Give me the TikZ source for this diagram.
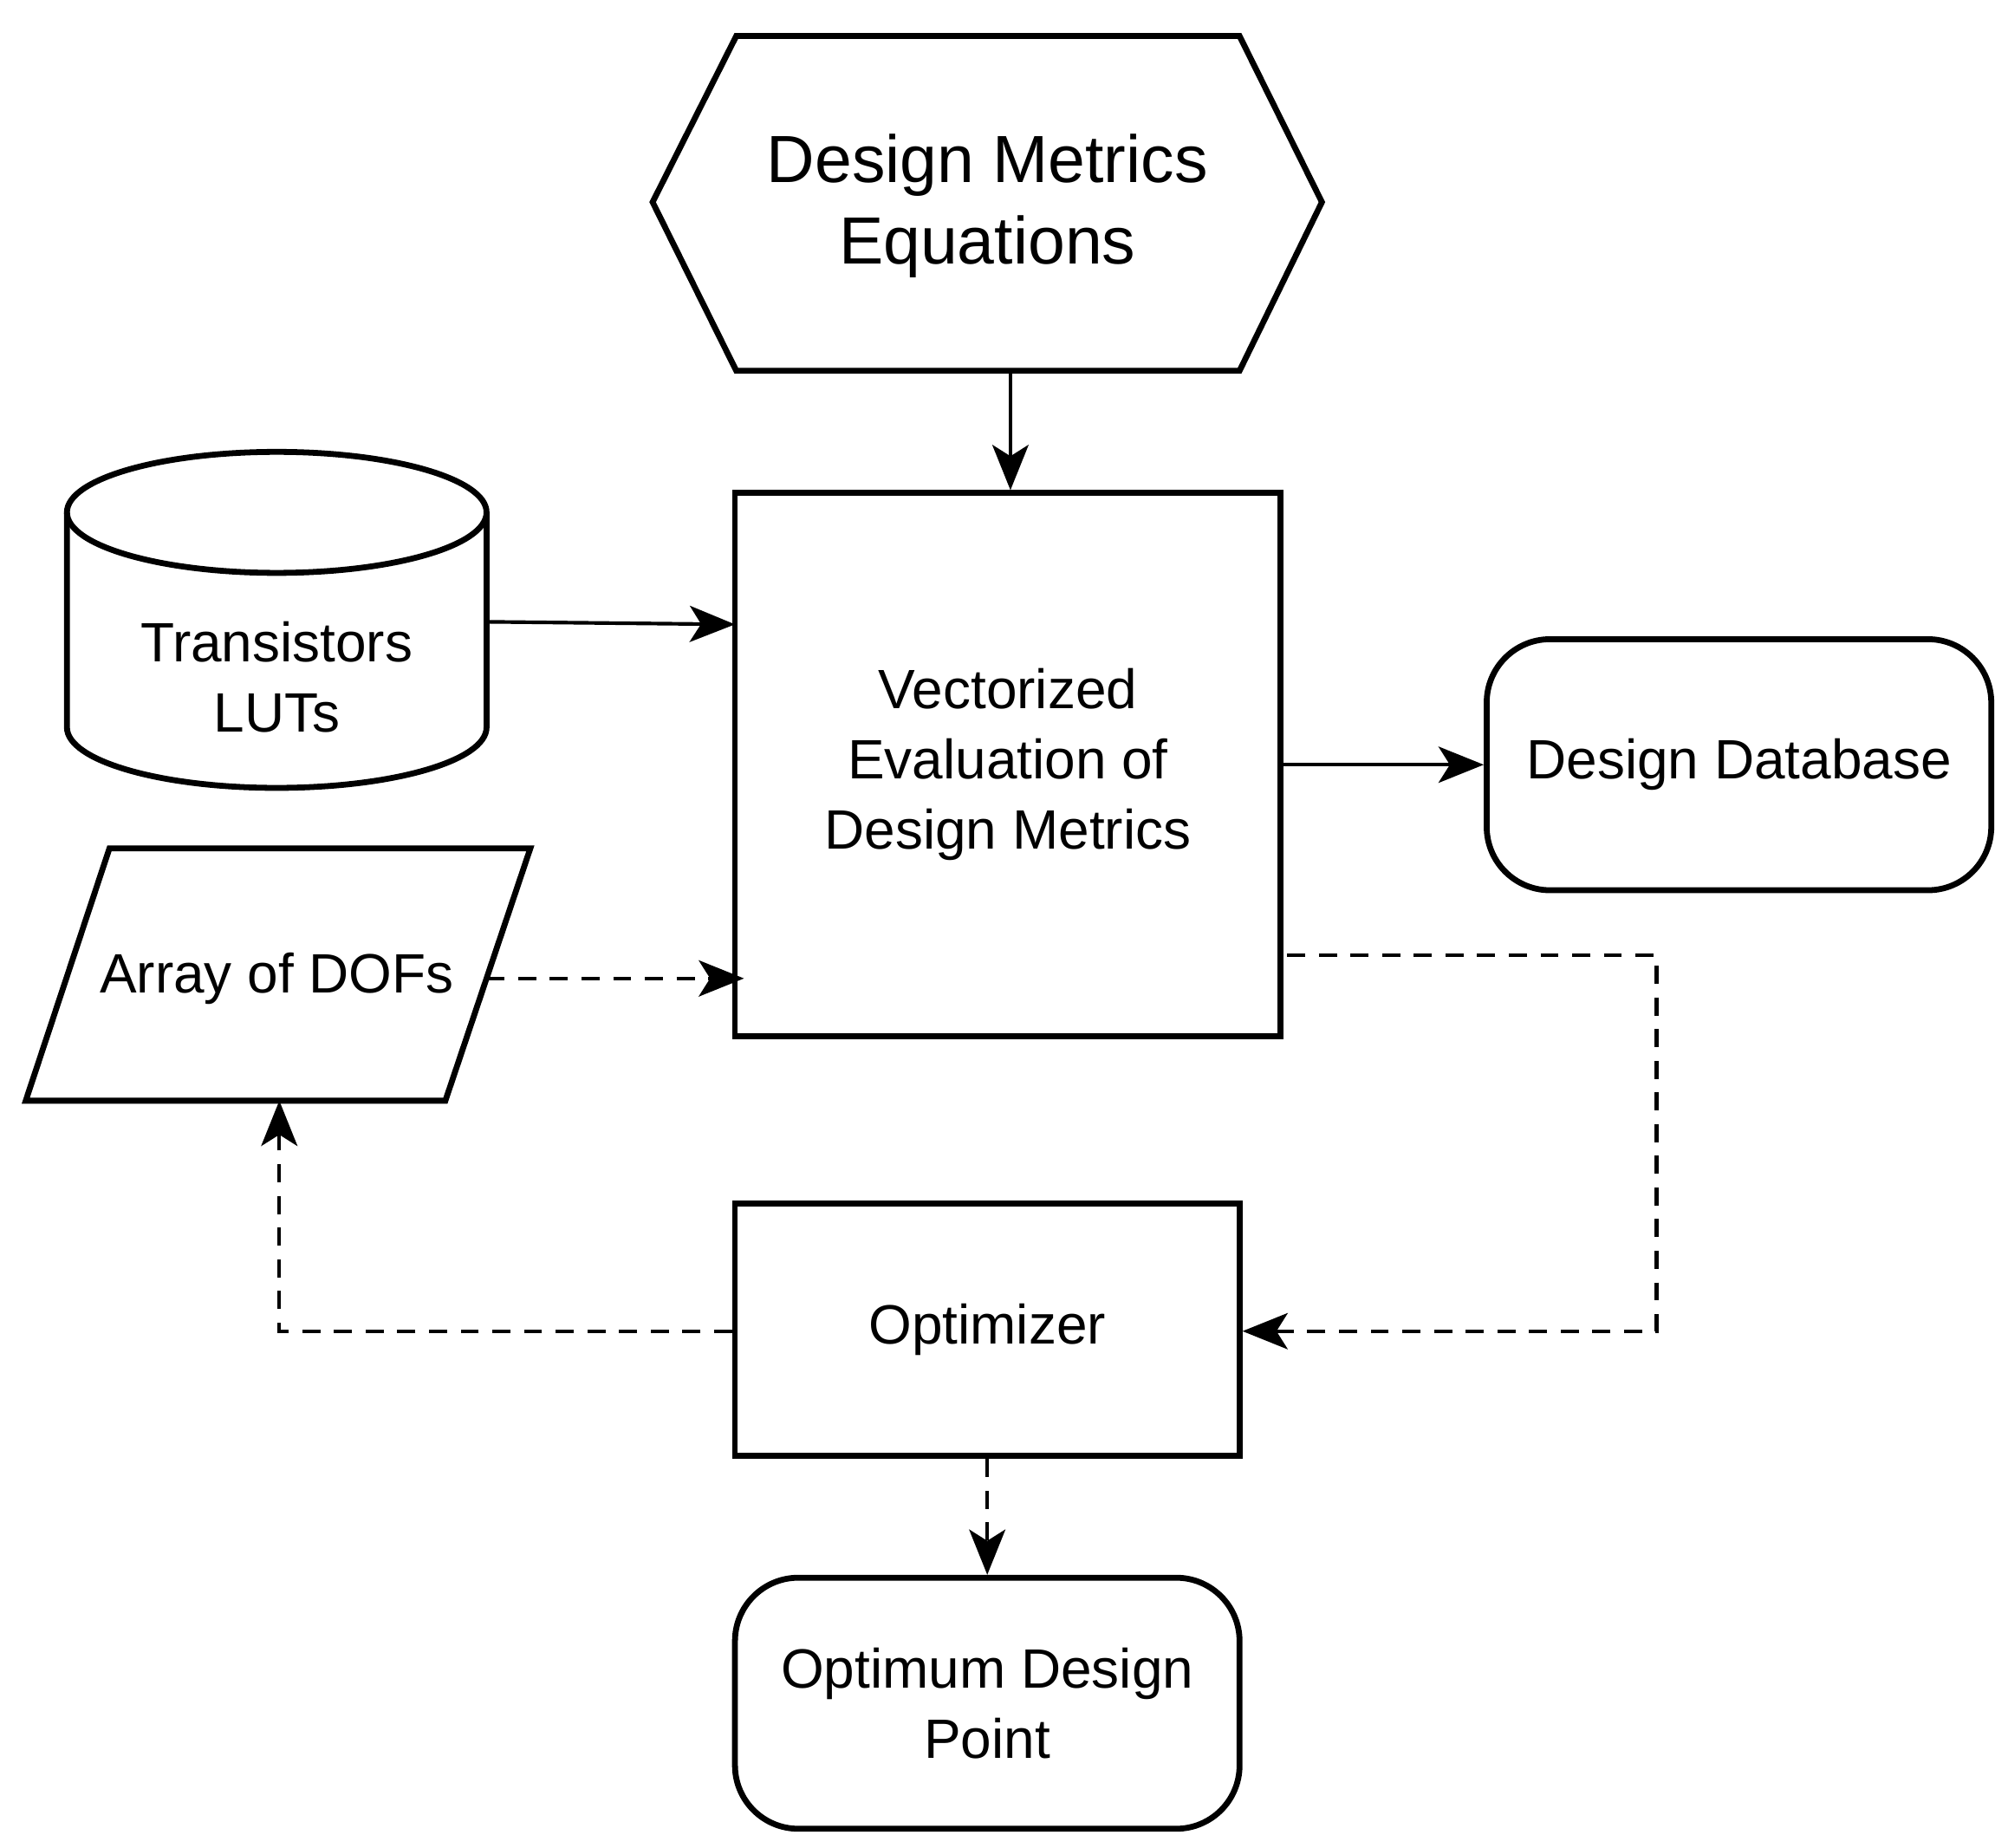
\documentclass[tikz,border=0pt]{standalone}
\usepackage{fontspec}
\setmainfont{Liberation Sans}
\usetikzlibrary{arrows.meta}
\begin{document}
\begin{tikzpicture}[x=0.02cm,y=-0.02cm,line width=2.6pt,
  txt/.style={align=center,font=\fontsize{24.5}{31}\selectfont},
  big/.style={align=center,font=\fontsize{29.5}{36}\selectfont},
  box/.style={draw,txt,inner sep=0pt},
  arr/.style={-{Stealth[length=20pt,width=16pt,inset=5pt]},line width=1.6pt},
  darr/.style={arr,dash pattern=on 8pt off 6pt}]
\useasboundingbox (0,0) rectangle (1560,1435);
% hexagon
\draw (507,157)--(572,28)--(963,28)--(1027,157)--(963,288)--(572,288)--cycle;
\node[big] (hex) at (767,160) {Design Metrics\\Equations};
\coordinate (hexb) at (785,288);
% main box
\node[box,minimum width=424*0.02cm,minimum height=422*0.02cm] (vec) at (783,594) {Vectorized\\Evaluation of\\Design Metrics};
% cylinder
\draw (52,398) arc[start angle=180,end angle=-180,x radius=163,y radius=47];
\draw (52,398)--(52,565) arc[start angle=180,end angle=0,x radius=163,y radius=47]--(378,398);
\node[txt] (lut) at (215,526) {Transistors\\LUTs};
\coordinate (lutr) at (378,483);
% database
\node[box,rounded corners=28pt,minimum width=392*0.02cm,minimum height=195*0.02cm] (db) at (1351,594) {Design Database};
% parallelogram
\draw (20,855)--(85,659)--(412,659)--(346,855)--cycle;
\node[txt] (dof) at (215,760) {Array of DOFs};
\coordinate (dofr) at (378,760);
\coordinate (dofb) at (217,855);
% optimizer
\node[box,minimum width=392*0.02cm,minimum height=196*0.02cm] (opt) at (767,1033) {Optimizer};
\node[box,rounded corners=28pt,minimum width=392*0.02cm,minimum height=195*0.02cm] (optp) at (767,1323) {Optimum Design\\Point};
% connectors
\draw[arr] (hexb) -- (vec.north -| hexb);
\draw[arr] (lutr) -- (571,485);
\draw[arr] (vec.east |- db) -- (db.west);
\draw[darr] (dofr) -- (578,760);
\draw[darr] (1000,742) -- (1287,742) -- (1287,1034) -- (opt.east |- 0,1034);
\draw[darr] (opt.west |- 0,1034) -- (217,1034) -- (dofb);
\draw[darr] (opt.south) -- (optp.north);
\end{tikzpicture}
\end{document}
